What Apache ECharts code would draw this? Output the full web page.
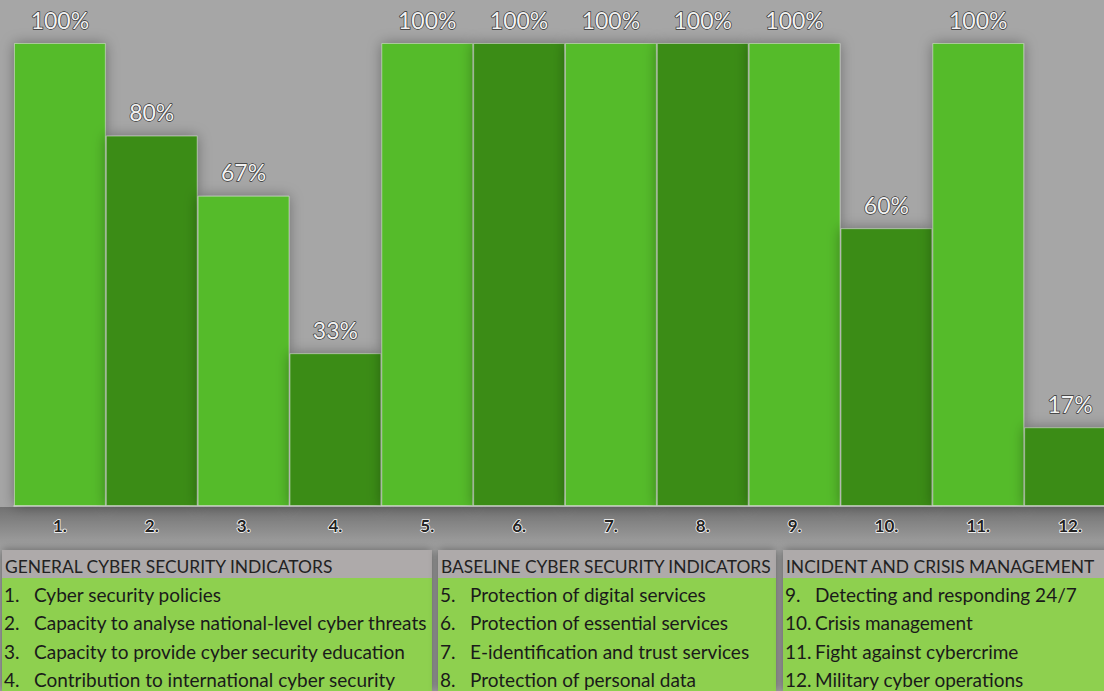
<!DOCTYPE html>
<html>
<head>
<meta charset="utf-8">
<script src="https://cdn.jsdelivr.net/npm/echarts@6/dist/echarts.min.js"></script>
<style>
  html, body { margin: 0; padding: 0; background: #a6a6a6; overflow: hidden; }
  /* a bit wider than the window: the last bar is cut at the right edge */
  #chart { width: 1116px; height: 691px; }
</style>
</head>
<body>
<div id="chart"></div>
<script>
// indicator numbers on the x axis
var categories = ['1.', '2.', '3.', '4.', '5.', '6.', '7.', '8.', '9.', '10.', '11.', '12.'];
// share of indicators fulfilled (%)
var values = [100, 80, 67, 33, 100, 100, 100, 100, 100, 60, 100, 17];

// legend tables under the chart
var groupTitles = ['GENERAL CYBER SECURITY INDICATORS', 'BASELINE CYBER SECURITY INDICATORS', 'INCIDENT AND CRISIS MANAGEMENT'];
var groupNums = [
  ['1.', '2.', '3.', '4.'],
  ['5.', '6.', '7.', '8.'],
  ['9.', '10.', '11.', '12.']
];
var groupItems = [
  ['Cyber security policies', 'Capacity to analyse national-level cyber threats', 'Capacity to provide cyber security education', 'Contribution to international cyber security'],
  ['Protection of digital services', 'Protection of essential services', 'E-identification and trust services', 'Protection of personal data'],
  ['Detecting and responding 24/7', 'Crisis management', 'Fight against cybercrime', 'Military cyber operations']
];

var light = '#55bb2a', dark = '#3a8c16';
var font = 'Lato, "Open Sans", sans-serif';

var boxes = [
  { x: 2, w: 430 },
  { x: 438, w: 338 },
  { x: 783, w: 333 }
];

var graphic = [
  // darker band behind the axis labels
  {
    type: 'rect', z: -1, silent: true,
    shape: { x: 0, y: 507, width: 1116, height: 42 },
    style: {
      fill: new echarts.graphic.LinearGradient(0, 0, 0, 1, [
        { offset: 0, color: '#727272' },
        { offset: 1, color: '#a3a3a3' }
      ])
    }
  }
];

boxes.forEach(function (b, i) {
  var children = [
    { type: 'rect', shape: { x: 0, y: 0, width: b.w, height: 141 },
      style: { fill: '#8ed04f', shadowBlur: 10, shadowColor: 'rgba(0,0,0,0.45)' } },
    { type: 'rect', shape: { x: 0, y: 0, width: b.w, height: 28 }, style: { fill: '#aeaaaa' } },
    { type: 'text', x: 3, y: 16,
      style: { text: groupTitles[i], fill: '#222', font: '17.4px ' + font, verticalAlign: 'middle' } }
  ];
  groupItems[i].forEach(function (t, j) {
    var cy = 44 + j * 28.5;
    children.push({ type: 'text', x: 2, y: cy,
      style: { text: groupNums[i][j], fill: '#1a1a1a', font: '19px ' + font, verticalAlign: 'middle' } });
    children.push({ type: 'text', x: 32, y: cy,
      style: { text: t, fill: '#1a1a1a', font: '19px ' + font, verticalAlign: 'middle' } });
  });
  graphic.push({ type: 'group', x: b.x, y: 550, children: children });
});

var chart = echarts.init(document.getElementById('chart'), null, { renderer: 'svg' });
chart.setOption({
  backgroundColor: '#a6a6a6',
  animation: false,
  grid: { left: 14, right: 0, top: 43, bottom: 185 },
  xAxis: {
    type: 'category',
    data: categories,
    axisLine: { lineStyle: { color: '#e0e0e0', width: 1.5 } },
    axisTick: { show: false },
    axisLabel: {
      margin: 11,
      fontSize: 17,
      fontWeight: 'bold',
      fontFamily: font,
      color: '#222',
      textBorderColor: '#fff',
      textBorderWidth: 1.5
    }
  },
  yAxis: {
    type: 'value', min: 0, max: 100,
    show: false,
    splitLine: { show: false }
  },
  graphic: graphic,
  series: [{
    type: 'bar',
    data: values.map(function (v, i) {
      return { value: v, itemStyle: { color: i % 2 === 0 ? light : dark } };
    }),
    barCategoryGap: 0,
    itemStyle: {
      borderColor: 'rgba(230,240,225,0.45)',
      borderWidth: 1,
      shadowBlur: 14,
      shadowColor: 'rgba(0,0,0,0.35)'
    },
    label: {
      show: true,
      position: 'top',
      distance: 12,
      formatter: '{c}%',
      fontSize: 23,
      fontFamily: font,
      color: '#f2f2f2',
      textBorderColor: '#333',
      textBorderWidth: 1.4
    }
  }]
});
</script>
</body>
</html>
